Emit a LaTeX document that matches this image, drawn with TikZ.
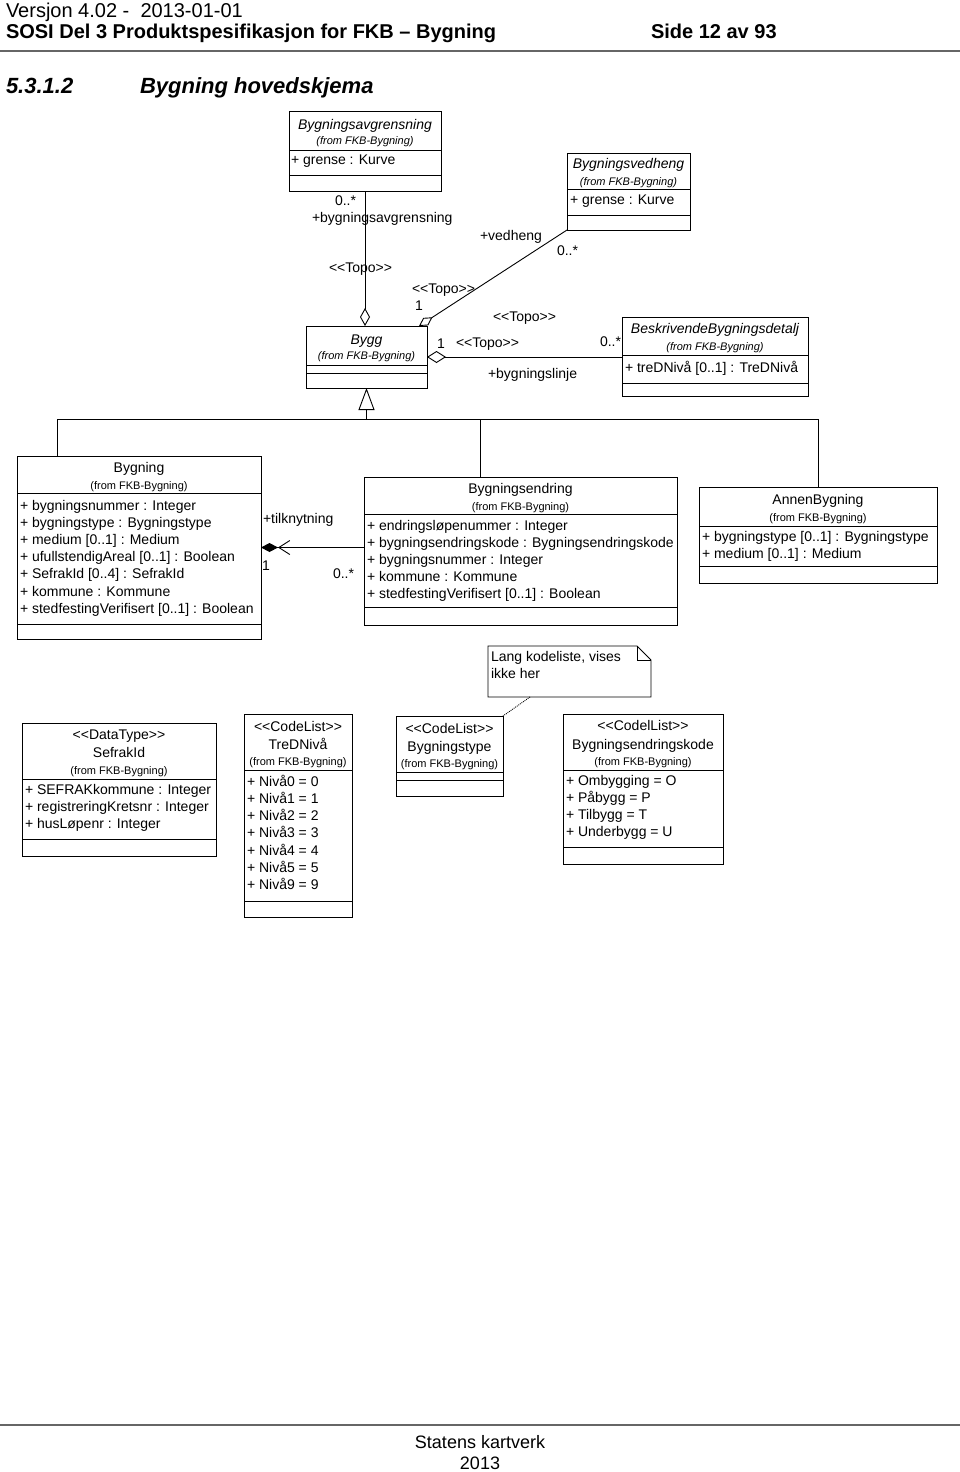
\documentclass[tikz,border=0pt]{standalone}
\usepackage{fontspec}
\setmainfont[Ligatures=TeXOff]{Liberation Sans}
\usepackage{tikz}
\usetikzlibrary{arrows.meta}

\begin{document}
\begin{tikzpicture}[
  x=1pt, y=-1pt,
  every node/.style={inner sep=0pt, outer sep=0pt},
  cls/.style={rectangle, draw, line width=0.9pt, anchor=north west},
  cname/.style={anchor=base, font=\fontsize{14}{16}\selectfont},
  cfrom/.style={anchor=base, font=\fontsize{11}{13}\selectfont},
  attrs/.style={anchor=north west, align=left, font=\fontsize{14}{17.2}\selectfont},
  lbl/.style={anchor=base west, font=\fontsize{14}{16}\selectfont},
  hdr/.style={anchor=base west, font=\fontsize{20}{24}\selectfont},
  hdrb/.style={anchor=base west, font=\bfseries\fontsize{20}{24}\selectfont},
  ttl/.style={anchor=base west, font=\bfseries\itshape\fontsize{22}{26}\selectfont},
  line/.style={line width=0.9pt},
  agg/.style={line, -{Diamond[fill=white, length=18pt, width=10pt]}},
  inh/.style={line, -{Triangle[fill=white, length=22pt, width=16pt]}},
  comp/.style={line, -{Straight Barb[length=11pt, width=14pt] Diamond[length=17pt, width=9pt]}}
]
\useasboundingbox (0,0) rectangle (960,1472);

% Header
\node[hdr] (ver) at (6,18) {Versjon 4.02 -\ \ 2013-01-01};
\node[hdrb] (doc) at (6,39) {SOSI Del 3 Produktspesifikasjon for FKB – Bygning};
\node[hdrb] (page) at (651,39) {Side 12 av 93};
\draw[line width=1.6pt, black!60] (0,51) -- (960,51);
\node[ttl] (secno) at (6,93) {5.3.1.2};
\node[ttl] (sect) at (140,93) {Bygning hovedskjema};

% Bygningsavgrensning
\node[cls, minimum width=152pt, minimum height=80pt] (avgr) at (289,111) {};
\draw[line] (avgr.west |- 0,150) -- (avgr.east |- 0,150);
\draw[line] (avgr.west |- 0,175) -- (avgr.east |- 0,175);
\node[cname] (avgrN) at (365,129) {\itshape Bygningsavgrensning};
\node[cfrom] (avgrF) at (365,144) {\itshape (from FKB-Bygning)};
\node[attrs] (avgrA) at (291,155) {+ grense : Kurve};

% Bygningsvedheng
\node[cls, minimum width=123pt, minimum height=77pt] (vedh) at (567,153) {};
\draw[line] (vedh.west |- 0,189) -- (vedh.east |- 0,189);
\draw[line] (vedh.west |- 0,215) -- (vedh.east |- 0,215);
\node[cname] (vedhN) at (628.5,168) {\itshape Bygningsvedheng};
\node[cfrom] (vedhF) at (628.5,185) {\itshape (from FKB-Bygning)};
\node[attrs] (vedhA) at (570,195) {+ grense : Kurve};

% Bygg
\node[cls, minimum width=121pt, minimum height=62pt] (bygg) at (306,326) {};
\draw[line] (bygg.west |- 0,365) -- (bygg.east |- 0,365);
\draw[line] (bygg.west |- 0,373) -- (bygg.east |- 0,373);
\node[cname] (byggN) at (366.5,344) {\itshape Bygg};
\node[cfrom] (byggF) at (366.5,359) {\itshape (from FKB-Bygning)};

% BeskrivendeBygningsdetalj
\node[cls, minimum width=186pt, minimum height=79pt] (besk) at (622,317) {};
\draw[line] (besk.west |- 0,355) -- (besk.east |- 0,355);
\draw[line] (besk.west |- 0,383) -- (besk.east |- 0,383);
\node[cname] (beskN) at (715,333) {\itshape BeskrivendeBygningsdetalj};
\node[cfrom] (beskF) at (715,350) {\itshape (from FKB-Bygning)};
\node[attrs] (beskA) at (625,361) {+ treDNivå [0..1] : TreDNivå};

% Bygning
\node[cls, minimum width=244pt, minimum height=183pt] (bygning) at (17,456) {};
\draw[line] (bygning.west |- 0,493) -- (bygning.east |- 0,493);
\draw[line] (bygning.west |- 0,624) -- (bygning.east |- 0,624);
\node[cname] (bygningN) at (139,472) {Bygning};
\node[cfrom] (bygningF) at (139,489) {(from FKB-Bygning)};
\node[attrs] (bygningA) at (20,500) {+ bygningsnummer : Integer\\+ bygningstype : Bygningstype\\+ medium [0..1] : Medium\\+ ufullstendigAreal [0..1] : Boolean\\+ SefrakId [0..4] : SefrakId\\+ kommune : Kommune\\+ stedfestingVerifisert [0..1] : Boolean};

% Bygningsendring
\node[cls, minimum width=313pt, minimum height=148pt] (endring) at (364,477) {};
\draw[line] (endring.west |- 0,514) -- (endring.east |- 0,514);
\draw[line] (endring.west |- 0,607) -- (endring.east |- 0,607);
\node[cname] (endringN) at (520.5,493) {Bygningsendring};
\node[cfrom] (endringF) at (520.5,510) {(from FKB-Bygning)};
\node[attrs] (endringA) at (367,520) {+ endringsløpenummer : Integer\\+ bygningsendringskode : Bygningsendringskode\\+ bygningsnummer : Integer\\+ kommune : Kommune\\+ stedfestingVerifisert [0..1] : Boolean};

% AnnenBygning
\node[cls, minimum width=238pt, minimum height=96pt] (annen) at (699,487) {};
\draw[line] (annen.west |- 0,526) -- (annen.east |- 0,526);
\draw[line] (annen.west |- 0,566) -- (annen.east |- 0,566);
\node[cname] (annenN) at (818,504) {AnnenBygning};
\node[cfrom] (annenF) at (818,521) {(from FKB-Bygning)};
\node[attrs] (annenA) at (702,531) {+ bygningstype [0..1] : Bygningstype\\+ medium [0..1] : Medium};

% Note
\node[minimum width=163pt, minimum height=51pt, anchor=north west] (note) at (488,646) {};
\draw[line] (note.south west) -- (note.north west) -- ([xshift=-14pt]note.north east) -- ([yshift=-14pt]note.north east) -- (note.south east) -- cycle;
\draw[line] ([xshift=-14pt]note.north east) |- ([yshift=-14pt]note.north east);
\node[attrs] (noteT) at (491,651) {Lang kodeliste, vises\\ikke her};

% SefrakId
\node[cls, minimum width=194pt, minimum height=133pt] (sefrak) at (22,723) {};
\draw[line] (sefrak.west |- 0,779) -- (sefrak.east |- 0,779);
\draw[line] (sefrak.west |- 0,839) -- (sefrak.east |- 0,839);
\node[cname] (sefrakS) at (119,739) {<<DataType>>};
\node[cname] (sefrakN) at (119,757) {SefrakId};
\node[cfrom] (sefrakF) at (119,774) {(from FKB-Bygning)};
\node[attrs] (sefrakA) at (25,784) {+ SEFRAKkommune : Integer\\+ registreringKretsnr : Integer\\+ husLøpenr : Integer};

% TreDNivå
\node[cls, minimum width=108pt, minimum height=203pt] (tred) at (244,714) {};
\draw[line] (tred.west |- 0,770) -- (tred.east |- 0,770);
\draw[line] (tred.west |- 0,901) -- (tred.east |- 0,901);
\node[cname] (tredS) at (298,731) {<<CodeList>>};
\node[cname] (tredN) at (298,749) {TreDNivå};
\node[cfrom] (tredF) at (298,765) {(from FKB-Bygning)};
\node[attrs] (tredA) at (247,775) {+ Nivå0 = 0\\+ Nivå1 = 1\\+ Nivå2 = 2\\+ Nivå3 = 3\\+ Nivå4 = 4\\+ Nivå5 = 5\\+ Nivå9 = 9};

% Bygningstype
\node[cls, minimum width=107pt, minimum height=80pt] (typ) at (396,716) {};
\draw[line] (typ.west |- 0,772) -- (typ.east |- 0,772);
\draw[line] (typ.west |- 0,780) -- (typ.east |- 0,780);
\node[cname] (typS) at (449.5,733) {<<CodeList>>};
\node[cname] (typN) at (449.5,751) {Bygningstype};
\node[cfrom] (typF) at (449.5,767) {(from FKB-Bygning)};

% Bygningsendringskode
\node[cls, minimum width=160pt, minimum height=150pt] (kode) at (563,714) {};
\draw[line] (kode.west |- 0,770) -- (kode.east |- 0,770);
\draw[line] (kode.west |- 0,847) -- (kode.east |- 0,847);
\node[cname] (kodeS) at (643,730) {<<CodelList>>};
\node[cname] (kodeN) at (643,749) {Bygningsendringskode};
\node[cfrom] (kodeF) at (643,765) {(from FKB-Bygning)};
\node[attrs] (kodeA) at (566,775) {+ Ombygging = O\\+ Påbygg = P\\+ Tilbygg = T\\+ Underbygg = U};

% Associations
\draw[agg] (avgr.south) -- (avgr.south |- bygg.north);
\draw[line, -{Diamond[fill=white, length=16pt, width=9pt]}] (vedh.south west) -- ([xshift=-8pt]bygg.north east);
\draw[line, {Diamond[fill=white, length=19pt, width=12pt]}-] (bygg.east) -- (besk.west |- bygg.east);
\draw[comp] (endring.west |- bygning.east) -- (bygning.east);
\draw[line, densely dotted] ([xshift=42pt]note.south west) -- (typ.north east);

% Generalization
\coordinate (jB) at (57,419);
\coordinate (jE) at (480,419);
\draw[line] (annen.north) |- (jB) -- (jB |- bygning.north);
\draw[line] (jE) -- (jE |- endring.north);
\draw[inh] (jB -| bygg.south) -- (bygg.south);

% Association labels
\node[lbl] (l1) at (335,205) {0..*};
\node[lbl] (l2) at (312,222) {+bygningsavgrensning};
\node[lbl] (l3) at (329,272) {<<Topo>>};
\node[lbl] (l4) at (480,240) {+vedheng};
\node[lbl] (l5) at (557,255) {0..*};
\node[lbl] (l6) at (412,293) {<<Topo>>};
\node[lbl] (l7) at (415,310) {1};
\node[lbl] (l8) at (493,321) {<<Topo>>};
\node[lbl] (l9) at (456,347) {<<Topo>>};
\node[lbl] (l10) at (437,348) {1};
\node[lbl] (l11) at (600,346) {0..*};
\node[lbl] (l12) at (488,378) {+bygningslinje};
\node[lbl] (l13) at (263,523) {+tilknytning};
\node[lbl] (l14) at (262,570) {1};
\node[lbl] (l15) at (333,578) {0..*};

% Footer
\draw[line width=1.6pt, black!60] (0,1425) -- (960,1425);
\node[anchor=base, font=\fontsize{18}{21}\selectfont] (org) at (480,1448) {Statens kartverk};
\node[anchor=base, font=\fontsize{18}{21}\selectfont] (year) at (480,1469) {2013};

\end{tikzpicture}
\end{document}
